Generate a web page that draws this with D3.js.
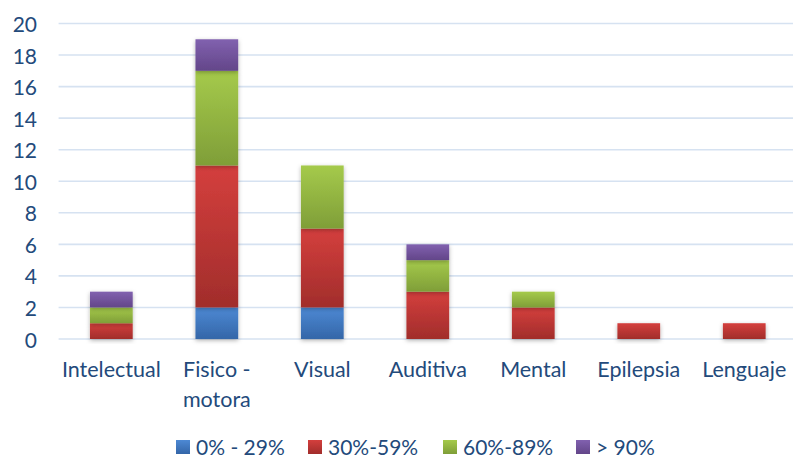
<!DOCTYPE html>
<html>
<head>
<meta charset="utf-8">
<script src="https://cdn.jsdelivr.net/npm/d3@7"></script>
<style>
  html, body { margin: 0; padding: 0; background: #fff; }
  svg { display: block; }
  text { font-family: Lato, "Open Sans", sans-serif; fill: #234a7b; }
</style>
</head>
<body>
<svg id="chart" width="793" height="463"></svg>
<script>
// Categories (labels may wrap onto a second line)
const categories = ["Intelectual", "Fisico -\nmotora", "Visual", "Auditiva", "Mental", "Epilepsia", "Lenguaje"];
const seriesNames = ["0% - 29%", "30%-59%", "60%-89%", "> 90%"];
// Counts per category for each range
const s0to29 = [0, 2, 2, 0, 0, 0, 0];
const s30to59 = [1, 9, 5, 3, 2, 1, 1];
const s60to89 = [1, 6, 4, 2, 1, 0, 0];
const s90plus = [1, 2, 0, 1, 0, 0, 0];
const yTicks = [0, 2, 4, 6, 8, 10, 12, 14, 16, 18, 20];

const seriesValues = [s0to29, s30to59, s60to89, s90plus];
const gradients = [
  ["#4d89d4", "#3466a8"],
  ["#d43f3d", "#a12d2b"],
  ["#a5ca4b", "#7f9e38"],
  ["#8161af", "#634689"]
];

const svg = d3.select("#chart");
const margin = { left: 58.6, right: -4 };
const W = 793;

const x = d3.scaleBand()
  .domain(d3.range(categories.length))
  .range([margin.left, W - margin.right])
  .paddingInner(0.595).paddingOuter(0.2975);

const y = d3.scaleLinear().domain([0, 20]).range([339, 23.5]);

const defs = svg.append("defs");
gradients.forEach((g, i) => {
  const lg = defs.append("linearGradient").attr("id", "grad" + i)
    .attr("x1", 0).attr("y1", 0).attr("x2", 0).attr("y2", 1);
  lg.append("stop").attr("offset", "0%").attr("stop-color", g[0]);
  lg.append("stop").attr("offset", "100%").attr("stop-color", g[1]);
});
const f = defs.append("filter").attr("id", "shadow")
  .attr("x", "-30%").attr("y", "-30%").attr("width", "160%").attr("height", "160%");
f.append("feDropShadow").attr("dx", 0).attr("dy", 1.5).attr("stdDeviation", 2)
  .attr("flood-color", "#000").attr("flood-opacity", 0.3);

// Gridlines
svg.append("g").selectAll("line").data(yTicks).join("line")
  .attr("x1", margin.left).attr("x2", W)
  .attr("y1", d => y(d)).attr("y2", d => y(d))
  .attr("stroke", "#d6e2f1").attr("stroke-width", 1.6);

// Y axis labels
svg.append("g").selectAll("text").data(yTicks).join("text")
  .attr("x", 37).attr("y", d => y(d))
  .attr("text-anchor", "end").attr("dominant-baseline", "central")
  .style("font-size", "21px")
  .text(d => d);

// Stacked bars
const rows = categories.map((c, i) => {
  const r = { i };
  seriesValues.forEach((s, k) => r["s" + k] = s[i]);
  return r;
});
const stack = d3.stack().keys(seriesValues.map((s, k) => "s" + k))(rows);

const barsG = svg.append("g");
stack.forEach((layer, k) => {
  barsG.append("g").selectAll("rect")
    .data(layer.filter(d => d[1] - d[0] > 0))
    .join("rect")
    .attr("x", d => x(d.data.i))
    .attr("width", x.bandwidth())
    .attr("y", d => y(d[1]))
    .attr("height", d => y(d[0]) - y(d[1]))
    .attr("fill", `url(#grad${k})`)
    .attr("filter", "url(#shadow)");
});

// Category labels
const catG = svg.append("g");
categories.forEach((c, i) => {
  const t = catG.append("text")
    .attr("x", x(i) + x.bandwidth() / 2)
    .attr("y", 377)
    .attr("text-anchor", "middle")
    .style("font-size", "21.5px");
  c.split("\n").forEach((line, j) => {
    t.append("tspan").attr("x", x(i) + x.bandwidth() / 2)
      .attr("dy", j === 0 ? 0 : 30).text(line);
  });
});

// Legend
const legendX = [176, 308, 443, 576];
const lg = svg.append("g");
seriesNames.forEach((name, k) => {
  lg.append("rect").attr("x", legendX[k]).attr("y", 440)
    .attr("width", 14).attr("height", 14).attr("fill", `url(#grad${k})`);
  lg.append("text").attr("x", legendX[k] + 20).attr("y", 455)
    .style("font-size", "21px").text(name);
});
</script>
</body>
</html>
